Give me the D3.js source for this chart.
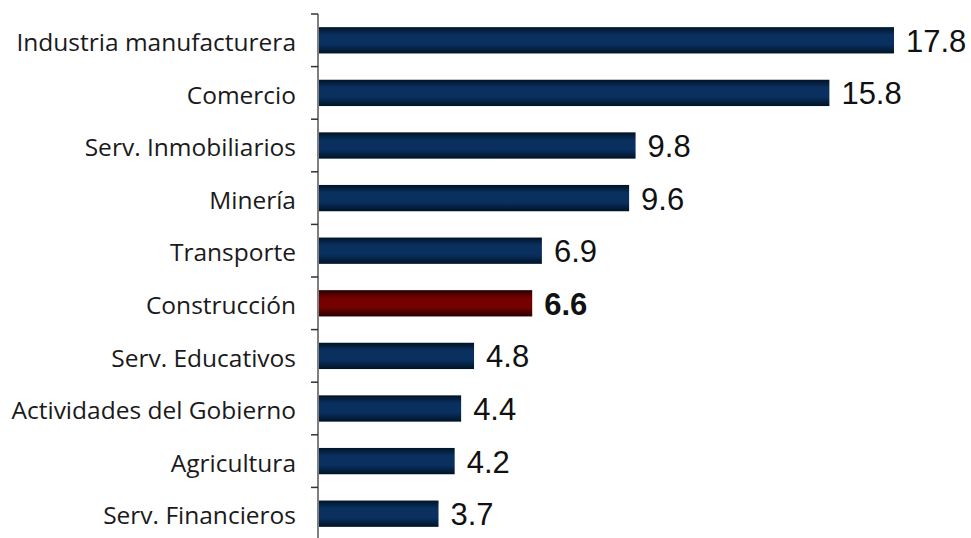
<!DOCTYPE html>
<html><head><meta charset="utf-8">
<script src="https://cdn.jsdelivr.net/npm/d3@7"></script>
<style>body{margin:0;background:#fff;}</style>
</head><body>
<svg id="c" width="971" height="538"></svg>
<script>
const categories = ["Industria manufacturera","Comercio","Serv. Inmobiliarios","Minería","Transporte","Construcción","Serv. Educativos","Actividades del Gobierno","Agricultura","Serv. Financieros"];
const values = [17.8,15.8,9.8,9.6,6.9,6.6,4.8,4.4,4.2,3.7];
const highlight = "Construcción";

const svg = d3.select("#c");
const x0 = 319;
const x = d3.scaleLinear().domain([0, 17.8]).range([x0, 894]);
const y = d3.scaleBand().domain(categories).range([14, 540]).paddingInner(0.5).paddingOuter(0.25);

const defs = svg.append("defs");
function grad(id, edge, mid){
  const g = defs.append("linearGradient").attr("id", id).attr("x1",0).attr("y1",0).attr("x2",0).attr("y2",1);
  g.append("stop").attr("offset","0%").attr("stop-color",edge);
  g.append("stop").attr("offset","30%").attr("stop-color",mid);
  g.append("stop").attr("offset","65%").attr("stop-color",mid);
  g.append("stop").attr("offset","100%").attr("stop-color",edge);
}
grad("gBlue","#001326","#0a3060");
grad("gRed","#2a0000","#750000");

svg.selectAll("rect.bar").data(categories).join("rect").attr("class","bar")
  .attr("x", x0)
  .attr("y", d => y(d))
  .attr("width", (d,i) => x(values[i]) - x0)
  .attr("height", y.bandwidth())
  .attr("fill", d => d === highlight ? "url(#gRed)" : "url(#gBlue)");

// axis
const tickYs = d3.range(categories.length + 1).map(i => 14 + i * y.step());
svg.append("line").attr("x1",318).attr("x2",318).attr("y1",14).attr("y2",538).attr("stroke","#555").attr("stroke-width",1.5);
svg.selectAll("line.tk").data(tickYs).join("line").attr("class","tk")
  .attr("x1",311).attr("x2",318).attr("y1",d=>d).attr("y2",d=>d).attr("stroke","#333").attr("stroke-width",1.5);

svg.selectAll("text.cat").data(categories).join("text").attr("class","cat")
  .attr("x", 296)
  .attr("y", d => y(d) + y.bandwidth()/2)
  .attr("dy", "0.44em")
  .attr("text-anchor","end")
  .attr("font-family","'Open Sans', sans-serif")
  .attr("font-size", 24.5)
  .attr("fill","#1a1a1a")
  .text(d => d);

svg.selectAll("text.val").data(categories).join("text").attr("class","val")
  .attr("x", (d,i) => x(values[i]) + 12)
  .attr("y", d => y(d) + y.bandwidth()/2)
  .attr("dy", "0.37em")
  .attr("font-family","'Liberation Sans', Arial, sans-serif")
  .attr("font-size", 31)
  .attr("font-weight", d => d === highlight ? "bold" : "normal")
  .attr("fill","#111")
  .text((d,i) => values[i].toFixed(1));
</script>
</body></html>
